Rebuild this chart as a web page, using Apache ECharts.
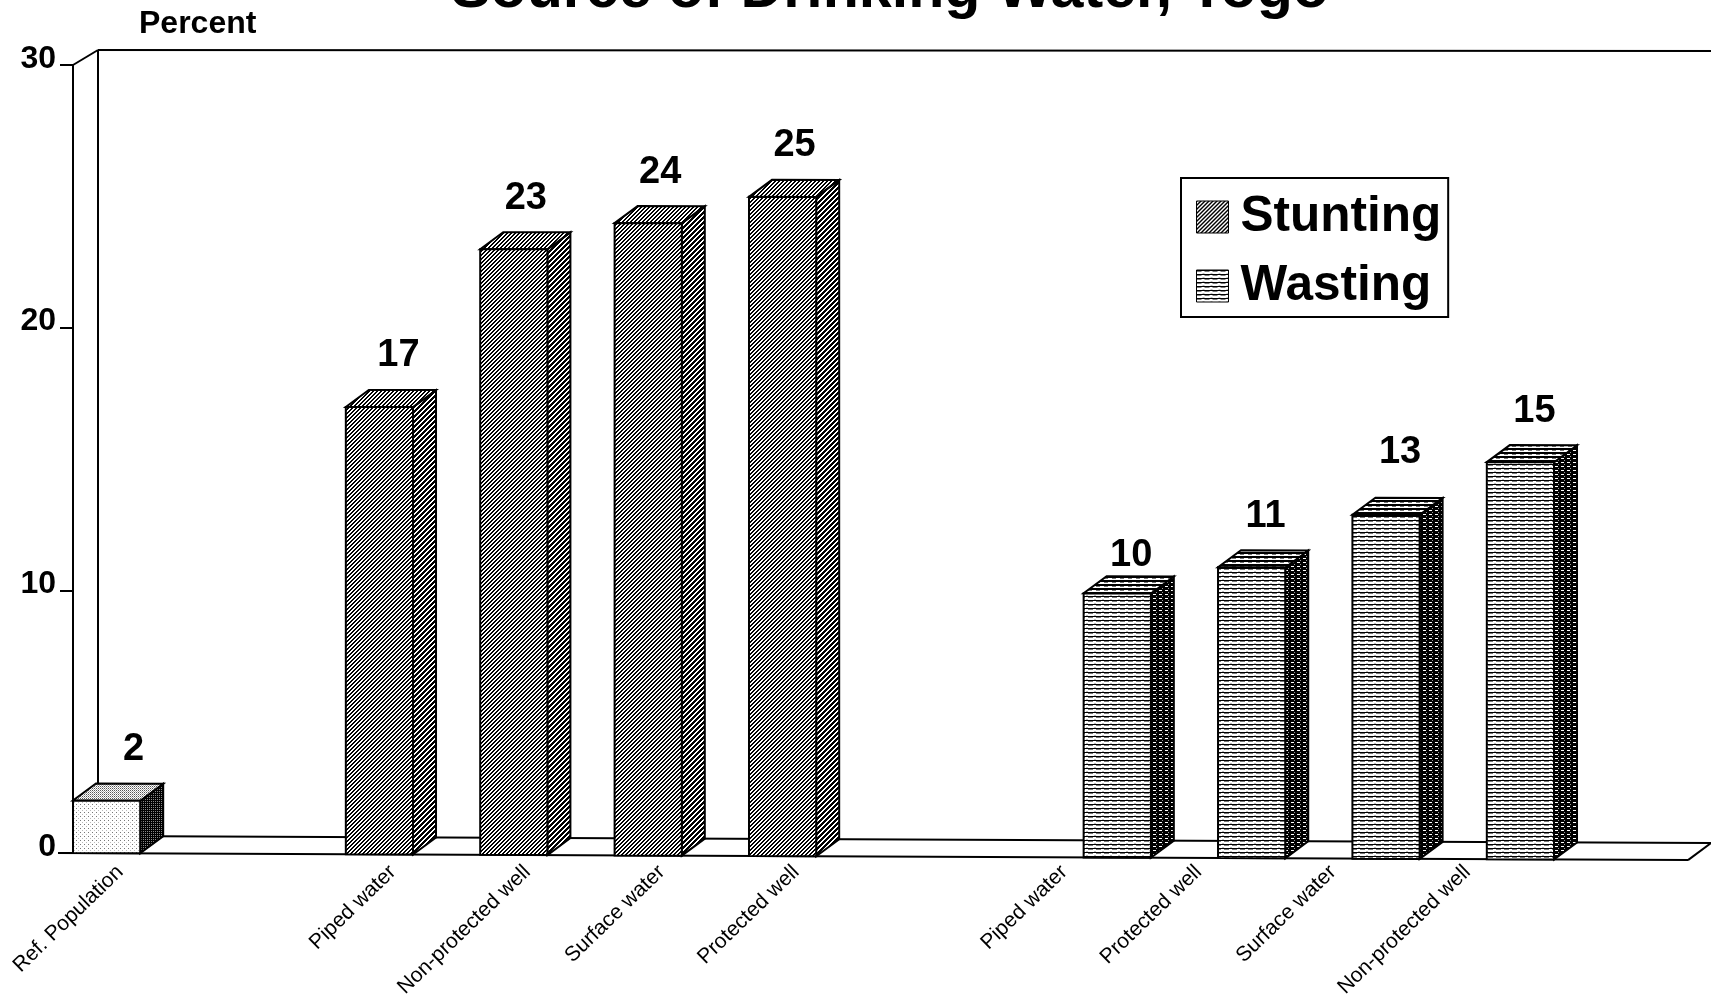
<!DOCTYPE html>
<html>
<head>
<meta charset="utf-8">
<style>html,body{margin:0;padding:0;background:#fff}#c{width:1711px;height:1003px}</style>
<script src="https://cdn.jsdelivr.net/npm/echarts@6/dist/echarts.min.js"></script>
</head>
<body>
<div id="c"></div>
<script>
const titleText = 'Source of Drinking Water, Togo';
const yTicks = [0, 10, 20, 30];
const refLabels = ['Ref. Population'];
const refValues = [2];
const stuntingLabels = ['Piped water', 'Non-protected well', 'Surface water', 'Protected well'];
const stuntingValues = [17, 23, 24, 25];
const wastingLabels = ['Piped water', 'Protected well', 'Surface water', 'Non-protected well'];
const wastingValues = [10, 11, 13, 15];

function tile(w, h, paint) {
  const c = document.createElement('canvas');
  c.width = w; c.height = h;
  const g = c.getContext('2d');
  g.fillStyle = '#fff'; g.fillRect(0, 0, w, h);
  paint(g);
  return { image: c, repeat: 'repeat' };
}
function diag(n, k) {
  return tile(n, n, g => {
    g.fillStyle = '#000';
    for (let i = 0; i < n; i++) for (let j = 0; j < k; j++) g.fillRect((i + j) % n, n - 1 - i, 1, 1);
  });
}
function rows(w, h, list) {
  return tile(w, h, g => {
    list.forEach(r => { g.fillStyle = r[4] || '#000'; g.fillRect(r[0], r[1], r[2], r[3]); });
  });
}
const P = {
  ref: {
    face: tile(4, 4, g => { g.fillStyle = '#777'; g.fillRect(0, 0, 1, 1); g.fillStyle = '#bbb'; g.fillRect(2, 2, 1, 1); }),
    top: tile(2, 2, g => { g.fillStyle = '#555'; g.fillRect(0, 0, 1, 1); g.fillStyle = '#aaa'; g.fillRect(1, 1, 1, 1); }),
    side: tile(2, 2, g => { g.fillStyle = '#000'; g.fillRect(0, 0, 2, 2); g.fillStyle = '#888'; g.fillRect(1, 1, 1, 1); })
  },
  stunting: { face: diag(4, 2), top: diag(4, 2), side: diag(5, 3) },
  wasting: {
    face: rows(8, 4, [[0, 0, 8, 1], [0, 1, 5, 1, '#777'], [6, 3, 2, 1, '#bbb']]),
    top: rows(8, 4, [[0, 0, 8, 2], [0, 2, 4, 1, '#777']]),
    side: rows(6, 4, [[0, 0, 6, 4], [1, 2, 3, 1, '#fff'], [4, 0, 1, 1, '#999']])
  }
};

const slotStart = { ref: 0, stunting: 2.03, wasting: 7.52 };
const labelShift = { ref: 0.1, stunting: 0.1, wasting: -0.395 };
const valueShift = { ref: 27, stunting: 12, wasting: 14 };
const valueLift = { 10: 13, 13: -11 };
const valueSlide = { 17: 7 };
const BAR = 0.5, DX = 23, DY = -17, X_MIN = -0.25, X_MAX = 11.767;

function rowsFor(labels, values, key) {
  return values.map((v, i) => [slotStart[key] + i, v, labels[i]]);
}
const labelPos = [];
const labelText = {};
[[refLabels, 'ref'], [stuntingLabels, 'stunting'], [wastingLabels, 'wasting']].forEach(([ls, key]) => {
  ls.forEach((t, i) => {
    const v = +(slotStart[key] + i + labelShift[key]).toFixed(3);
    labelPos.push(v);
    labelText[v] = t;
  });
});

// the scanned page is very slightly rotated: the baseline sinks towards the right
function sheared(api, x, v) {
  const p = api.coord([x, v]);
  const o = api.coord([X_MIN, 0]);
  return [p[0], p[1] + (p[0] - o[0]) * 0.0044 * (1 - v / 30)];
}
const pt = (p, dx, dy) => [p[0] + dx, p[1] + dy];

function barSeries(name, key, data) {
  return {
    type: 'custom', name, z: 3, data, clip: false,
    encode: { x: 0, y: 1 },
    renderItem(params, api) {
      const s = api.value(0), v = api.value(1);
      const a = sheared(api, s - BAR / 2, 0), b = sheared(api, s + BAR / 2, 0);
      const c = sheared(api, s + BAR / 2, v), d = sheared(api, s - BAR / 2, v);
      const line = { stroke: '#000', lineWidth: 2, lineJoin: 'miter' };
      const poly = (points, fill) => ({ type: 'polygon', shape: { points }, style: Object.assign({ fill }, line) });
      const center = (d[0] + c[0]) / 2;
      const lift = key === 'wasting' ? (valueLift[v] || 0) : 0;
      const slide = key === 'stunting' ? (valueSlide[v] || 0) : 0;
      return {
        type: 'group',
        children: [
          poly([b, pt(b, DX, DY), pt(c, DX, DY), c], P[key].side),
          poly([d, c, pt(c, DX, DY), pt(d, DX, DY)], P[key].top),
          poly([a, b, c, d], P[key].face),
          { type: 'text', style: {
              text: String(v), x: center + valueShift[key] + slide, y: d[1] - 51 + lift,
              fill: '#000', font: 'bold 38px "Liberation Sans", Arial, sans-serif',
              align: 'center', verticalAlign: 'middle' } }
        ]
      };
    }
  };
}

const frameSeries = {
  type: 'custom', name: 'frame', z: 1, silent: true, clip: false, data: [[0, 0]],
  legendHoverLink: false, tooltip: { show: false },
  renderItem(params, api) {
    const f0 = sheared(api, X_MIN, 0), f1 = sheared(api, X_MAX, 0);
    const t0 = sheared(api, X_MIN, 30);
    const back0 = pt(f0, 25, -17), back1 = pt(f1, 23, -17), topL = pt(t0, 25, -15);
    const seg = (p, q, w) => ({ type: 'line', shape: { x1: p[0], y1: p[1], x2: q[0], y2: q[1] }, style: { stroke: '#000', lineWidth: w || 2 } });
    return {
      type: 'group',
      children: [
        seg(t0, topL), seg(topL, [1711, topL[1] + 1]), seg(topL, back0),
        seg(f0, back0), seg(back0, back1), seg(f1, back1),
        seg(pt(f0, -15, 0), f1)
      ]
    };
  }
};

const chart = echarts.init(document.getElementById('c'), null, { renderer: 'canvas' });
const FONT = '"Liberation Sans", Arial, sans-serif';
chart.setOption({
  animation: false,
  backgroundColor: '#fff',
  title: {
    text: titleText, left: 446, top: -44,
    textStyle: { fontFamily: FONT, fontWeight: 'bold', fontSize: 59.2, color: '#000' }
  },
  legend: {
    left: 1181, top: 178, orient: 'vertical',
    borderColor: '#000', borderWidth: 2, backgroundColor: '#fff',
    padding: [14, 7, 6, 15], itemWidth: 32, itemHeight: 32, itemGap: 19,
    textStyle: { fontFamily: FONT, fontWeight: 'bold', fontSize: 49.5, color: '#000', padding: [6, 0, 0, 7] },
    data: [
      { name: 'Stunting', icon: 'rect', itemStyle: { color: P.stunting.face, borderColor: '#000', borderWidth: 1 } },
      { name: 'Wasting', icon: 'rect', itemStyle: { color: P.wasting.face, borderColor: '#000', borderWidth: 1 } }
    ]
  },
  grid: { left: 73, top: 65, width: 1615, height: 788, containLabel: false },
  xAxis: {
    type: 'value', min: X_MIN, max: X_MAX, position: 'bottom',
    axisLine: { show: false }, axisTick: { show: false }, splitLine: { show: false },
    axisLabel: {
      customValues: labelPos, rotate: 44, margin: 16, interval: 0,
      hideOverlap: false, showMinLabel: true, showMaxLabel: true,
      fontFamily: FONT, fontSize: 21, color: '#000',
      formatter: v => labelText[+(+v).toFixed(3)] || ''
    }
  },
  yAxis: {
    type: 'value', min: yTicks[0], max: yTicks[yTicks.length - 1], interval: 10,
    name: 'Percent', nameLocation: 'end', nameGap: 25,
    nameTextStyle: { fontFamily: FONT, fontWeight: 'bold', fontSize: 32, color: '#000', align: 'left', padding: [0, 0, 0, 66] },
    axisLine: { show: true, onZero: false, lineStyle: { color: '#000', width: 2 } },
    axisTick: { show: true, length: 13, lineStyle: { color: '#000', width: 2 } },
    splitLine: { show: false },
    axisLabel: { margin: 17, fontFamily: FONT, fontWeight: 'bold', fontSize: 32, color: '#000', verticalAlign: 'bottom', lineHeight: 12 }
  },
  series: [
    frameSeries,
    barSeries('Ref. Population', 'ref', rowsFor(refLabels, refValues, 'ref')),
    barSeries('Stunting', 'stunting', rowsFor(stuntingLabels, stuntingValues, 'stunting')),
    barSeries('Wasting', 'wasting', rowsFor(wastingLabels, wastingValues, 'wasting'))
  ]
});
</script>
</body>
</html>
